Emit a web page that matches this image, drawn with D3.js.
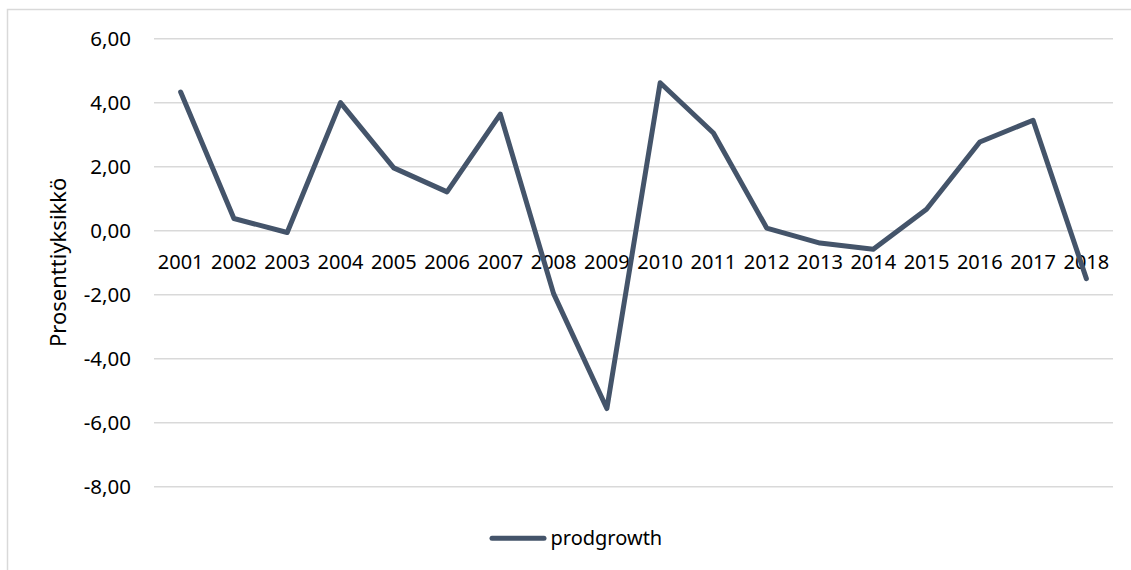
<!DOCTYPE html>
<html>
<head>
<meta charset="utf-8">
<script src="https://cdn.jsdelivr.net/npm/d3@7"></script>
<style>
  html, body { margin: 0; padding: 0; background: #ffffff; }
  svg { display: block; font-family: "Noto Sans", "Open Sans", sans-serif; }
</style>
</head>
<body>
<svg id="chart" width="1131" height="570"></svg>
<script>
// Annual productivity growth, percentage points
const years = ["2001","2002","2003","2004","2005","2006","2007","2008","2009",
               "2010","2011","2012","2013","2014","2015","2016","2017","2018"];
const prodgrowth = [4.32, 0.37, -0.07, 3.99, 1.95, 1.20, 3.63, -1.98, -5.57,
                    4.61, 3.04, 0.07, -0.40, -0.59, 0.66, 2.76, 3.44, -1.51];
const yTicks = [6, 4, 2, 0, -2, -4, -6, -8];
const seriesName = "prodgrowth";
const yTitle = "Prosenttiyksikkö";

const svg = d3.select("#chart");
const W = 1131, H = 570;
const lineColor = "#44546A";
const gridColor = "#d9d9d9";

// chart frame
svg.append("path")
  .attr("d", `M7.5,${H} V9.5 H${W}`)
  .attr("fill", "none")
  .attr("stroke", gridColor)
  .attr("stroke-width", 1.5);

const plot = { left: 154, right: 1113, top: 38.3, bottom: 486.3 };

const x = d3.scaleBand().domain(years).range([plot.left, plot.right]).padding(0);
const y = d3.scaleLinear().domain([-8, 6]).range([plot.bottom, plot.top]);

const fmt = v => d3.format(".2f")(v).replace(".", ",").replace("−", "-");

// horizontal gridlines and value labels
const yAxis = d3.axisLeft(y).tickValues(yTicks)
  .tickSize(-(plot.right - plot.left)).tickPadding(23).tickFormat(fmt);
const gy = svg.append("g").attr("transform", `translate(${plot.left},0)`).call(yAxis);
gy.select(".domain").remove();
gy.selectAll(".tick line").attr("stroke", gridColor).attr("stroke-width", 1.5);
gy.selectAll(".tick text")
  .attr("font-size", 20.5).attr("fill", "#000").attr("font-family", "Noto Sans")
  .attr("dy", "0.35em");

// category labels sit just below the zero line
const xAxis = d3.axisBottom(x).tickSize(0).tickPadding(0);
const gx = svg.append("g").attr("transform", `translate(0,${y(0)})`).call(xAxis);
gx.select(".domain").remove();
gx.selectAll(".tick text")
  .attr("font-size", 20).attr("fill", "#000").attr("font-family", "Noto Sans")
  .attr("dy", 0).attr("y", 39);

// axis title
svg.append("text")
  .attr("transform", `translate(66,${(plot.top + plot.bottom) / 2}) rotate(-90)`)
  .attr("text-anchor", "middle")
  .attr("font-size", 22)
  .attr("fill", "#000")
  .text(yTitle);

// data line
const line = d3.line()
  .x((d, i) => x(years[i]) + x.bandwidth() / 2)
  .y(d => y(d));
svg.append("path")
  .datum(prodgrowth)
  .attr("d", line)
  .attr("fill", "none")
  .attr("stroke", lineColor)
  .attr("stroke-width", 5)
  .attr("stroke-linejoin", "round")
  .attr("stroke-linecap", "round");

// legend
const lg = svg.append("g").attr("transform", "translate(490,538.3)");
lg.append("line")
  .attr("x1", 2).attr("x2", 54).attr("y1", 0).attr("y2", 0)
  .attr("stroke", lineColor).attr("stroke-width", 5).attr("stroke-linecap", "round");
lg.append("text")
  .attr("x", 60.5).attr("y", 6.3)
  .attr("font-size", 20).attr("fill", "#000")
  .text(seriesName);
</script>
</body>
</html>
